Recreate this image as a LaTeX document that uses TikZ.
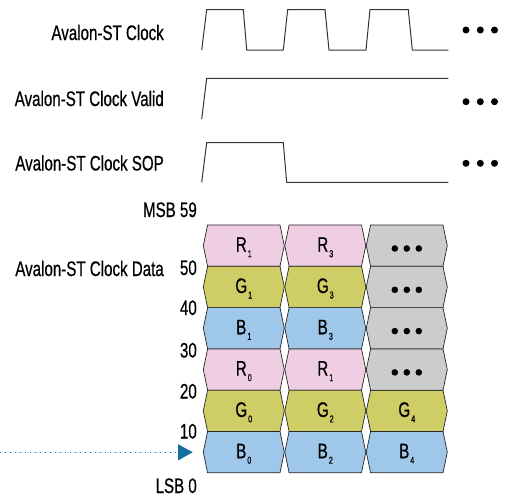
\documentclass[tikz,border=0pt]{standalone}
\usepackage{fontspec}
\setmainfont{Liberation Sans}[FakeStretch=0.72,FakeBold=0.6]
\usetikzlibrary{arrows.meta}
\definecolor{cpink}{RGB}{239,205,226}
\definecolor{colive}{RGB}{206,205,102}
\definecolor{cblue}{RGB}{158,199,233}
\definecolor{cgray}{RGB}{204,204,204}
\definecolor{arrowc}{RGB}{22,110,160}
\begin{document}
\begin{tikzpicture}[x=1pt,y=-1pt,
  lbl/.style={anchor=base east, inner sep=0pt, font=\fontsize{21}{24}\selectfont},
  wave/.style={line width=1pt, draw=black!80, line join=round},
  cell/.style={draw=black!85, line width=0.7pt, line join=round},
  cellt/.style={anchor=base, inner sep=0pt, font=\fontsize{21}{24}\selectfont},
  dotf/.style={fill=black}]
\useasboundingbox (0,0) rectangle (523,496);
% labels
\node[lbl] (lclk) at (164,40) {Avalon-ST Clock};
\node[lbl] (lval) at (164,106) {Avalon-ST Clock Valid};
\node[lbl] (lsop) at (164,170.5) {Avalon-ST Clock SOP};
\node[lbl] (ldat) at (164,276) {Avalon-ST Clock Data};
\node[lbl] (msb) at (197,217) {MSB 59};
\node[lbl] (n50) at (197,275) {50};
\node[lbl] (n40) at (197,315) {40};
\node[lbl] (n30) at (197,357.5) {30};
\node[lbl] (n20) at (197,398.5) {20};
\node[lbl] (n10) at (197,438.5) {10};
\node[lbl] (lsb) at (197,493) {LSB 0};
% waveforms
\draw[wave] (201.7,50) -- (206.7,9.5) -- (243.3,9.5) -- (246.7,50) -- (283.3,50) -- (287.7,9.5) -- (325,9.5) -- (329,50) -- (366,50) -- (370,9.5) -- (408.3,9.5) -- (412.3,50) -- (448.3,50);
\draw[wave] (201.7,119) -- (206.7,78.3) -- (448.3,78.3);
\draw[wave] (201.7,182.3) -- (206.7,142.7) -- (283.3,142.7) -- (286.7,182.3) -- (448.3,182.3);
\foreach \y in {30,101.7,163.3}{
  \foreach \x in {466,480.3,494.5}{
    \fill[dotf] (\x,\y) circle[radius=3.5pt];
  }
}
% data cells
\foreach \c/\r/\col/\L/\s in {0/0/cpink/R/1, 1/0/cpink/R/3, 0/1/colive/G/1, 1/1/colive/G/3, 0/2/cblue/B/1, 1/2/cblue/B/3, 0/3/cpink/R/0, 1/3/cpink/R/1, 0/4/colive/G/0, 1/4/colive/G/2, 2/4/colive/G/4, 0/5/cblue/B/0, 1/5/cblue/B/2, 2/5/cblue/B/4}{
  \pgfmathsetmacro\xl{203.3+81.5*\c}
  \pgfmathsetmacro\yt{225+41.3*\r}
  \draw[cell, fill=\col] (\xl,\yt+20.65) -- (\xl+4.3,\yt) -- (\xl+76.7,\yt) -- (\xl+81,\yt+20.65) -- (\xl+76.7,\yt+41.3) -- (\xl+4.3,\yt+41.3) -- cycle;
  \node[cellt] (c\c\r) at (\xl+40.5,\yt+26.7) {\L\hspace{1pt}\raisebox{-5.5pt}{\fontsize{10}{11}\selectfont\s}};
}
\foreach \r in {0,1,2,3}{
  \pgfmathsetmacro\xl{203.3+81.5*2}
  \pgfmathsetmacro\yt{225+41.3*\r}
  \draw[cell, fill=cgray] (\xl,\yt+20.65) -- (\xl+4.3,\yt) -- (\xl+76.7,\yt) -- (\xl+81,\yt+20.65) -- (\xl+76.7,\yt+41.3) -- (\xl+4.3,\yt+41.3) -- cycle;
  \coordinate (g\r) at (\xl+40.5,\yt+23.5);
  \foreach \dx in {-12,0,12}{
    \fill[dotf] ([xshift=\dx pt]g\r) circle[radius=3.3pt];
  }
}
% arrow
\coordinate (astart) at (0,452.3);
\coordinate (aend) at (192.7,452.3);
\draw[draw=arrowc, fill=arrowc, line width=1.3pt, dash pattern=on 1.4pt off 3.6pt, -{Triangle[length=14.7pt,width=16pt]}] (astart) -- (aend);
\end{tikzpicture}
\end{document}
